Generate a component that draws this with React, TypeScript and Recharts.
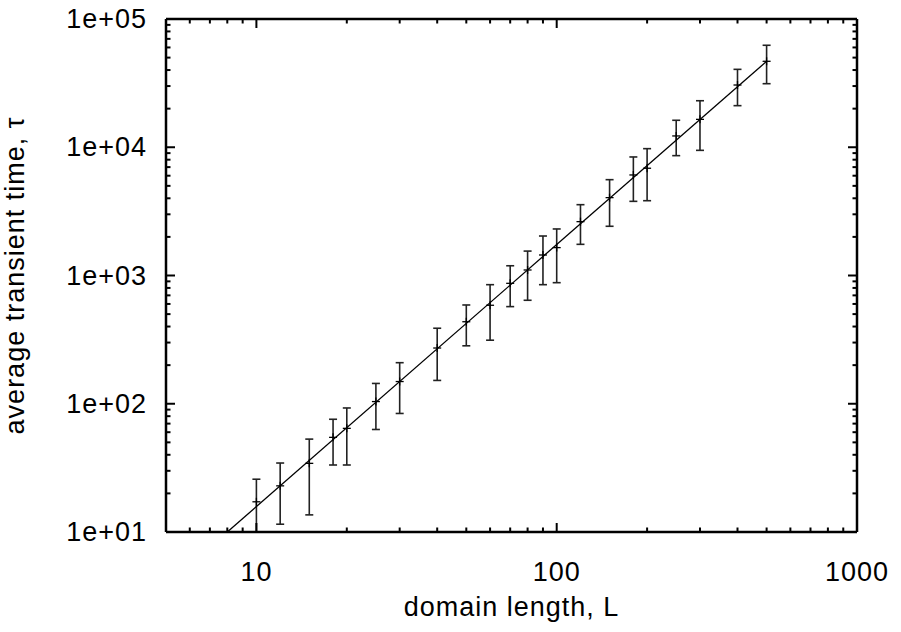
import { ComposedChart, ErrorBar, Scatter, XAxis, YAxis } from "recharts";

// domain length L and average transient time tau
const lengths = [10, 12, 15, 18, 20, 25, 30, 40, 50, 60, 70, 80, 90, 100, 120, 150, 180, 200, 250, 300, 400, 500];
const tau = [17.2, 22.9, 34.3, 54.7, 64.3, 104, 149, 272, 436, 586, 869, 1104, 1445, 1650, 2630, 4047, 6080, 6860, 12250, 16500, 30570, 46800];
const tauHigh = [25.8, 34.5, 53, 75.7, 92.7, 144, 209, 388, 589, 848, 1191, 1550, 2032, 2306, 3566, 5587, 8400, 9750, 16230, 23050, 40500, 62400];
const tauLow = [10, 11.5, 13.6, 33.3, 33.3, 63, 84, 152, 283, 313, 572, 641, 848, 879, 1750, 2420, 3787, 3830, 8600, 9460, 21100, 31300];

// fitted power law, end points
const fitL = [8, 500];
const fitTau = [10, 46800];

const xTicks = [5, 6, 7, 8, 9, 10, 20, 30, 40, 50, 60, 70, 80, 90, 100, 200, 300, 400, 500, 600, 700, 800, 900, 1000];
const yTicks = [
  10, 20, 30, 40, 50, 60, 70, 80, 90,
  100, 200, 300, 400, 500, 600, 700, 800, 900,
  1000, 2000, 3000, 4000, 5000, 6000, 7000, 8000, 9000,
  10000, 20000, 30000, 40000, 50000, 60000, 70000, 80000, 90000,
  100000,
];

const points = lengths.map((L, i) => ({
  L,
  tau: tau[i],
  err: [tau[i] - tauLow[i], tauHigh[i] - tau[i]],
}));
const fit = fitL.map((L, i) => ({ L, tau: fitTau[i] }));

const FONT = '"Liberation Sans", Arial, Helvetica, sans-serif';
const MAJOR = 9;
const MINOR = 4.5;

const isMajor = (v: number) => Math.abs(Math.log10(v) - Math.round(Math.log10(v))) < 1e-9;
const sci = (v: number) => `1e+${String(Math.round(Math.log10(v))).padStart(2, "0")}`;

function BottomTick(props: any) {
  const { x, y, payload } = props;
  const major = isMajor(payload.value);
  return (
    <g>
      <line x1={x} y1={y} x2={x} y2={y - (major ? MAJOR : MINOR)} stroke="#000" strokeWidth={2} />
      {major && (
        <text x={x} y={y + 40} textAnchor="middle" dominantBaseline="central" fontSize={27} letterSpacing={1} fontFamily={FONT} fill="#000">
          {payload.value}
        </text>
      )}
    </g>
  );
}

function TopTick(props: any) {
  const { x, y, payload } = props;
  const major = isMajor(payload.value);
  return <line x1={x} y1={y} x2={x} y2={y + (major ? MAJOR : MINOR)} stroke="#000" strokeWidth={2} />;
}

function LeftTick(props: any) {
  const { x, y, payload } = props;
  const major = isMajor(payload.value);
  return (
    <g>
      <line x1={x} y1={y} x2={x + (major ? MAJOR : MINOR)} y2={y} stroke="#000" strokeWidth={2} />
      {major && (
        <text x={x - 19} y={y} textAnchor="end" dominantBaseline="central" fontSize={27} letterSpacing={1} fontFamily={FONT} fill="#000">
          {sci(payload.value)}
        </text>
      )}
    </g>
  );
}

function RightTick(props: any) {
  const { x, y, payload } = props;
  const major = isMajor(payload.value);
  return <line x1={x} y1={y} x2={x - (major ? MAJOR : MINOR)} y2={y} stroke="#000" strokeWidth={2} />;
}

function Cross(props: any) {
  const { cx, cy } = props;
  if (cx == null || cy == null) return <g />;
  return (
    <g stroke="#000" strokeWidth={1.3}>
      <line x1={cx - 4} y1={cy} x2={cx + 4} y2={cy} />
      <line x1={cx} y1={cy - 4} x2={cx} y2={cy + 4} />
    </g>
  );
}

const axisLine = { stroke: "#000", strokeWidth: 2.5 };

export default function App() {
  return (
    <div style={{ position: "absolute", left: 0, top: 0, width: 901, height: 632, background: "#fff" }}>
      <ComposedChart width={901} height={632} margin={{ top: 0, right: 0, bottom: 0, left: 0 }}>
        <XAxis
          xAxisId="b"
          dataKey="L"
          type="number"
          scale="log"
          domain={[5, 1000]}
          allowDataOverflow
          ticks={xTicks}
          interval={0}
          orientation="bottom"
          height={100}
          tickSize={0}
          tickMargin={0}
          tickLine={false}
          axisLine={axisLine}
          tick={<BottomTick />}
          label={{ value: "domain length, L", position: "insideBottom", offset: 16, fontSize: 27, letterSpacing: 1, fontFamily: FONT, fill: "#000" }}
        />
        <XAxis
          xAxisId="t"
          dataKey="L"
          type="number"
          scale="log"
          domain={[5, 1000]}
          allowDataOverflow
          ticks={xTicks}
          interval={0}
          orientation="top"
          height={19}
          tickSize={0}
          tickMargin={0}
          tickLine={false}
          axisLine={axisLine}
          tick={<TopTick />}
        />
        <YAxis
          yAxisId="l"
          dataKey="tau"
          type="number"
          scale="log"
          domain={[10, 100000]}
          allowDataOverflow
          ticks={yTicks}
          interval={0}
          orientation="left"
          width={166}
          tickSize={0}
          tickMargin={0}
          tickLine={false}
          axisLine={axisLine}
          tick={<LeftTick />}
          label={{ value: "average transient time, τ", angle: -90, position: "insideLeft", offset: 14, fontSize: 27, letterSpacing: 1, fontFamily: FONT, fill: "#000", style: { textAnchor: "middle" } }}
        />
        <YAxis
          yAxisId="r"
          dataKey="tau"
          type="number"
          scale="log"
          domain={[10, 100000]}
          allowDataOverflow
          ticks={yTicks}
          interval={0}
          orientation="right"
          width={44}
          tickSize={0}
          tickMargin={0}
          tickLine={false}
          axisLine={axisLine}
          tick={<RightTick />}
        />
        <Scatter
          xAxisId="b"
          yAxisId="l"
          data={fit}
          dataKey="tau"
          line={{ stroke: "#000", strokeWidth: 1.3 }}
          lineType="joint"
          shape={() => <g />}
          isAnimationActive={false}
        />
        <Scatter xAxisId="b" yAxisId="l" data={points} dataKey="tau" shape={<Cross />} isAnimationActive={false}>
          <ErrorBar dataKey="err" direction="y" width={4} stroke="#222" strokeWidth={1.6} isAnimationActive={false} />
        </Scatter>
        <Scatter xAxisId="t" yAxisId="r" data={fit} dataKey="tau" shape={() => <g />} isAnimationActive={false} />
      </ComposedChart>
    </div>
  );
}
